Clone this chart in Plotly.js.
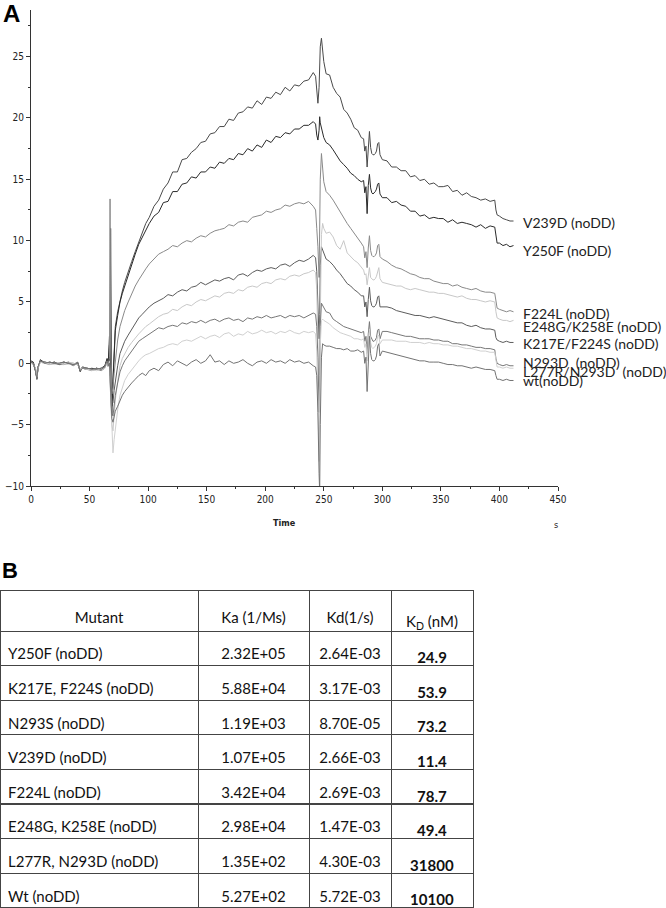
<!DOCTYPE html>
<html><head><meta charset="utf-8">
<script src="https://cdn.plot.ly/plotly-3.0.1.min.js"></script>
<style>html,body{margin:0;padding:0;background:#fff;overflow:hidden;}#wrap{width:666px;height:908px;overflow:hidden;}#chart{width:666px;height:930px;}</style>
</head><body><div id="wrap"><div id="chart"></div></div>
<script>
// time (s)
const time = [
0,2,4,5,6,8,12,16,20,24,28,32,36,40,42,44,48,52,56,60,63,65,66,
67,67.5,68,69,70,71,72,
74,76,78,80,83,86,89,92,95,98,101,105,109,113,117,121,125,129,133,137,141,145,149,153,157,161,165,169,173,177,181,185,189,193,197,201,205,209,213,217,221,225,229,233,237,241,
243,244,245,246,246.5,247,248,249,250,252,
255,258,261,264,267,270,273,276,279,282,
284,285,286,287,288,289,290,291,292,293,294,295,296,297,298,300,
304,308,312,316,320,324,328,332,336,340,344,348,352,356,360,364,368,372,376,380,384,388,392,396,
397,398,400,403,406,409,412];

const v239d = [
0.1,0.0,-0.7,-1.2,-0.3,0.2,0.1,0.0,0.1,-0.1,0.0,0.1,-0.1,0.0,-0.7,-0.3,-0.4,-0.5,-0.4,-0.5,-0.3,0.3,-0.2,
1.5,-1.0,11.0,-3.5,-1.0,1.5,3.0,
4.2,5.1,5.9,6.6,7.5,8.3,9.1,9.9,10.6,11.4,11.9,12.8,13.3,14.2,14.7,15.6,15.6,16.6,16.7,17.2,17.5,18.0,18.1,18.7,18.8,19.3,19.3,19.9,19.8,20.4,20.5,20.9,20.8,21.4,21.1,21.7,21.6,22.1,21.9,22.5,22.2,22.7,22.6,23.0,23.1,23.7,
23.4,22.0,21.2,22.5,24.5,25.8,26.5,25.4,24.6,23.6,
23.5,22.5,22.0,21.7,20.7,20.4,19.9,19.2,19.0,18.4,
18.3,17.3,17.7,16.0,18.0,18.9,17.6,17.1,17.0,17.0,17.1,17.3,17.9,18.0,17.0,16.6,
16.5,16.0,16.0,15.7,15.7,15.2,15.3,14.9,15.0,14.6,14.7,14.4,14.4,14.5,14.0,14.1,13.7,13.9,13.6,13.5,13.3,13.4,13.2,13.3,
12.5,12.1,12.0,11.8,11.7,11.6,11.6];

const y250f = [
0.2,0.1,-0.6,-1.3,-0.4,0.3,0.0,0.1,0.0,0.0,0.1,0.0,0.0,-0.1,-0.6,-0.4,-0.5,-0.4,-0.5,-0.4,-0.2,0.4,0.0,
2.2,0.5,-2.0,-4.1,-1.5,1.0,2.7,
3.9,5.0,5.7,6.3,7.2,8.0,8.9,9.7,10.3,10.9,11.4,12.0,12.3,13.1,13.2,14.0,14.0,14.6,14.7,15.2,15.1,15.6,15.6,16.0,15.9,16.4,16.3,16.7,16.6,17.1,17.0,17.5,17.3,17.8,17.6,18.2,18.0,18.5,18.4,18.8,18.7,19.1,19.1,19.4,19.4,19.7,
19.5,18.6,18.2,19.0,20.1,19.6,19.2,18.8,18.4,18.0,
17.8,17.4,16.9,16.5,16.2,15.9,15.5,15.3,15.0,14.8,
14.9,13.9,14.4,12.2,14.5,15.4,14.3,13.9,13.8,13.9,14.0,14.2,14.6,14.7,13.8,13.5,
13.5,13.1,13.2,12.9,12.8,12.4,12.4,12.0,12.1,11.8,11.9,11.8,11.8,11.5,11.7,11.4,11.5,11.4,11.3,11.1,11.3,11.0,11.2,11.1,
10.3,9.8,9.8,9.6,9.7,9.5,9.6];

const f224l = [
0.0,-0.1,-0.5,-1.1,-0.3,0.1,0.0,-0.1,0.0,-0.1,-0.1,0.0,-0.2,0.0,-0.5,-0.4,-0.5,-0.6,-0.5,-0.6,-0.4,0.1,-0.3,
0.5,13.4,2.0,-2.5,-2.0,-0.8,0.2,
1.9,3.0,3.7,4.3,5.0,5.7,6.3,6.8,7.3,7.7,8.1,8.5,8.9,9.1,9.3,9.6,9.5,9.8,10.0,9.9,10.2,10.4,10.3,10.6,10.8,10.9,11.0,11.3,11.2,11.5,11.6,11.5,11.9,12.0,12.1,12.4,12.3,12.5,12.6,12.9,12.8,13.0,13.1,13.0,13.2,12.8,
12.5,11.0,9.5,7.0,11.0,15.0,17.1,15.6,14.8,14.0,
13.7,13.3,12.8,12.3,11.8,11.4,11.0,10.6,10.3,9.8,
9.5,8.6,9.1,7.8,9.4,10.4,9.2,8.8,8.7,8.7,8.8,9.0,9.6,9.7,8.7,8.5,
8.3,8.0,7.8,7.7,7.5,7.3,7.2,7.0,6.9,6.9,6.7,6.6,6.5,6.5,6.3,6.4,6.2,6.1,6.0,6.1,5.9,5.8,5.8,5.7,
5.0,4.5,4.4,4.3,4.2,4.3,4.2];

const k217e = [
0.1,0.0,-0.6,-1.2,-0.4,0.2,0.0,0.0,0.1,-0.1,0.0,0.0,-0.1,0.1,-0.6,-0.3,-0.5,-0.5,-0.4,-0.5,-0.3,0.2,-0.1,
0.3,-0.5,-2.0,-3.0,-3.2,-2.2,-1.4,
-0.2,0.8,1.3,1.8,2.3,2.8,3.3,3.7,4.0,4.3,4.6,4.9,5.1,5.3,5.6,5.5,5.8,6.0,5.9,6.2,6.3,6.6,6.4,6.6,6.8,6.7,6.9,7.0,6.8,7.2,7.3,7.1,7.4,7.6,7.5,7.7,7.8,7.7,8.0,8.1,7.9,8.2,8.4,8.3,8.5,8.8,
8.6,7.5,5.0,2.0,4.0,8.0,9.5,9.2,8.9,8.5,
8.3,8.0,7.6,7.3,6.9,6.5,6.3,6.0,5.8,5.5,
5.5,4.6,5.0,3.8,5.2,6.2,5.1,4.7,4.6,4.6,4.7,4.9,5.4,5.5,4.6,4.6,
4.6,4.5,4.3,4.2,4.1,4.0,3.9,3.9,3.8,3.7,3.8,3.7,3.6,3.5,3.4,3.3,3.3,3.1,3.0,3.1,2.9,2.8,2.8,2.7,
2.1,1.9,1.8,1.7,1.8,1.7,1.7];

const e248g = [
0.0,0.0,-0.5,-1.1,-0.4,0.1,0.1,-0.1,0.0,0.0,-0.1,0.1,0.0,-0.1,-0.5,-0.4,-0.4,-0.6,-0.5,-0.5,-0.4,0.1,-0.2,
0.2,-1.0,-2.5,-5.0,-5.5,-4.0,-3.0,
-1.5,-0.2,0.4,0.8,1.3,1.7,2.1,2.4,2.7,3.0,3.2,3.5,3.8,4.0,4.1,4.4,4.3,4.6,4.8,4.7,5.0,5.2,5.1,5.3,5.5,5.4,5.7,5.8,5.7,6.0,5.9,6.2,6.3,6.2,6.5,6.6,6.5,6.8,6.9,6.8,7.1,7.2,7.1,7.3,7.4,7.6,
7.4,6.0,2.0,-3.0,0.0,6.0,10.5,11.4,11.0,10.6,
10.7,10.3,9.6,9.3,10.0,9.0,8.7,8.4,8.2,7.8,
7.6,7.2,7.3,6.4,7.2,7.8,7.0,6.9,6.8,6.8,6.9,7.1,7.6,7.8,6.9,6.6,
6.5,6.4,6.3,6.3,6.1,6.0,6.1,6.0,5.9,5.8,5.8,5.7,5.7,5.6,5.5,5.4,5.5,5.3,5.2,5.2,5.1,5.0,5.1,5.0,
4.2,3.7,3.6,3.5,3.5,3.4,3.5];

const n293d = [
0.1,0.0,-0.6,-1.2,-0.3,0.2,0.1,0.0,0.0,-0.1,0.1,0.0,-0.1,0.0,-0.6,-0.3,-0.4,-0.5,-0.5,-0.4,-0.3,0.2,-0.2,
0.0,-0.8,-2.8,-4.0,-4.3,-3.4,-2.6,
-1.6,-0.7,-0.2,0.2,0.6,1.0,1.4,1.8,2.0,2.2,2.4,2.6,2.9,2.8,3.0,3.1,3.0,3.3,3.2,3.4,3.3,3.5,3.3,3.5,3.6,3.4,3.6,3.7,3.5,3.6,3.4,3.7,3.6,3.8,3.7,3.9,3.7,3.8,3.9,3.7,3.9,3.8,3.9,3.7,3.9,4.1,
4.0,3.0,0.5,-4.0,-1.0,3.0,4.9,4.7,4.5,4.2,
4.1,3.6,3.4,3.2,3.0,2.9,2.8,2.7,2.6,2.5,
2.6,1.8,2.2,0.8,2.4,3.4,2.2,1.9,1.8,1.8,1.9,2.1,2.7,2.8,2.0,2.6,
2.6,2.5,2.4,2.3,2.2,2.2,2.1,2.0,2.0,2.0,1.9,1.9,1.8,1.8,1.6,1.6,1.5,1.5,1.4,1.3,1.3,1.2,1.2,1.1,
0.4,0.0,-0.1,-0.2,-0.1,-0.2,-0.2];

const l277r = [
0.0,-0.1,-0.5,-1.1,-0.4,0.1,0.0,0.0,-0.1,0.0,0.0,-0.1,0.0,-0.1,-0.5,-0.4,-0.5,-0.5,-0.6,-0.5,-0.4,0.1,-0.3,
-0.2,-1.5,-3.0,-6.0,-7.3,-6.2,-5.2,
-3.8,-2.6,-1.9,-1.4,-0.9,-0.5,-0.1,0.2,0.5,0.7,0.8,1.0,1.2,1.3,1.5,1.6,1.5,1.8,1.9,1.8,2.0,2.2,2.0,2.2,2.3,2.1,2.4,2.5,2.2,2.4,2.3,2.6,2.4,2.5,2.7,2.5,2.6,2.4,2.6,2.5,2.7,2.5,2.4,2.6,2.5,2.6,
2.4,1.0,-3.0,-8.0,-4.0,1.5,3.5,3.6,3.5,3.4,
3.2,2.9,2.7,2.5,2.4,2.3,2.2,2.0,2.0,1.9,
2.0,1.3,1.6,0.2,1.8,2.8,1.7,1.3,1.2,1.3,1.4,1.6,2.2,2.3,1.6,1.9,
1.9,1.9,1.8,1.8,1.8,1.7,1.7,1.7,1.6,1.7,1.6,1.6,1.5,1.5,1.4,1.4,1.3,1.2,1.2,1.1,1.0,1.0,0.9,0.9,
0.1,-0.3,-0.3,-0.4,-0.3,-0.4,-0.4];

const wt = [
0.1,0.0,-0.7,-1.3,-0.3,0.2,0.0,0.1,0.0,0.0,0.1,0.0,-0.1,0.0,-0.6,-0.4,-0.4,-0.5,-0.4,-0.5,-0.3,0.2,-0.2,
0.0,-1.2,-3.0,-4.5,-4.8,-4.3,-3.9,
-3.5,-3.0,-2.6,-2.3,-1.9,-1.6,-1.3,-1.0,-0.8,-1.0,-0.6,-0.4,-0.6,-0.1,0.1,-0.2,0.2,0.0,-0.2,0.1,0.3,0.0,0.2,0.7,0.1,0.2,-0.1,0.2,0.0,0.1,0.3,0.0,-0.2,0.1,0.2,0.0,0.3,0.1,0.2,0.0,0.3,0.1,0.2,0.0,0.1,-0.2,
-0.3,-1.0,-4.0,-9.0,-10.5,-5.0,0.5,1.6,1.5,1.4,
1.4,1.3,1.2,1.2,1.1,1.2,1.0,1.0,1.1,0.9,
1.0,0.0,0.5,-2.3,0.4,2.2,0.8,0.3,0.2,0.2,0.3,0.6,1.4,1.6,0.6,1.0,
0.9,0.8,0.7,0.6,0.5,0.4,0.3,0.2,0.2,0.1,0.1,0.1,0.0,-0.1,-0.1,-0.2,-0.2,-0.3,-0.4,-0.3,-0.4,-0.5,-0.5,-0.6,
-1.0,-1.3,-1.3,-1.4,-1.3,-1.4,-1.4];

// curve labels and the heights (response units) where they sit
const curveNames = ["V239D (noDD)","Y250F (noDD)","F224L (noDD)","K217E/F224S (noDD)","E248G/K258E (noDD)","N293D\u00a0\u00a0(noDD)","L277R/N293D\u00a0\u00a0(noDD)","wt(noDD)"];
const labelY = [11.5, 9.2, 4.1, 1.6, 3.0, 0.1, -0.65, -1.4];
const curveColors = ["#4a4a4a","#2a2a2a","#8a8a8a","#5c5c5c","#c8c8c8","#777777","#d0d0d0","#737373"];
const series = [v239d, y250f, f224l, k217e, e248g, n293d, l277r, wt];

// table
const tableHeader = ["Mutant","Ka (1/Ms)","Kd(1/s)","K<sub>D</sub> (nM)"];
const mutants = ["Y250F (noDD)","K217E, F224S (noDD)","N293S (noDD)","V239D (noDD)","F224L (noDD)","E248G, K258E (noDD)","L277R, N293D (noDD)","Wt (noDD)"];
const kaVals = ["2.32E+05","5.88E+04","1.19E+03","1.07E+05","3.42E+04","2.98E+04","1.35E+02","5.27E+02"];
const kdVals = ["2.64E-03","3.17E-03","8.70E-05","2.66E-03","2.69E-03","1.47E-03","4.30E-03","5.72E-03"];
const KDVals = ["24.9","53.9","73.2","11.4","78.7","49.4","31800","10100"];

const W = 666, H = 930;   // layout height (visible window is 908 px tall)
const py = p => (H - p) / H;  // pixel-from-top -> paper fraction
const narrow = "Liberation Sans Narrow, DejaVu Sans Condensed, Arial Narrow, sans-serif";
const tfont = "Lato, Carlito, Calibri, sans-serif";
const colW = [198, 111, 82, 82];

const traces = series.map((ys, i) => ({
  type: 'scatter', mode: 'lines', x: time, y: ys, name: curveNames[i],
  line: {color: curveColors[i], width: 1}, hoverinfo: 'skip'
}));

// table grid
const blank = a => a.map(() => '');
traces.push({
  type: 'table',
  domain: {x: [0, 473/W], y: [py(908), py(590)]},
  columnwidth: colW,
  header: {values: blank(tableHeader), height: 41, line: {color: '#444', width: 1}, fill: {color: '#ffffff'}, font: {size: 10}},
  cells: {values: [blank(mutants), blank(kaVals), blank(kdVals), blank(KDVals)], height: 34.6,
          line: {color: '#444', width: 1}, fill: {color: '#ffffff'}, font: {size: 10}}
});
// table text
traces.push({
  type: 'table',
  domain: {x: [0, 473/W], y: [0, py(604)]},
  columnwidth: colW,
  header: {
    values: tableHeader, align: ['center','center','center','center'], height: 35,
    line: {color: 'rgba(0,0,0,0)', width: 0}, fill: {color: 'rgba(0,0,0,0)'},
    font: {family: tfont, size: 15, color: '#111'}
  },
  cells: {
    values: [mutants, kaVals, kdVals, KDVals.map(v => '<b>' + v + '</b>')],
    align: ['left','center','center','center'], height: 34.6,
    line: {color: 'rgba(0,0,0,0)', width: 0}, fill: {color: 'rgba(0,0,0,0)'},
    font: {family: tfont, size: 15, color: '#111'}
  }
});

const annotations = curveNames.map((n, i) => ({
  xref: 'x', yref: 'y', x: 418.5, y: labelY[i], text: n, showarrow: false,
  xanchor: 'left', yanchor: 'middle', font: {family: tfont, size: 14, color: '#222'}
}));
annotations.push(
  {xref:'paper', yref:'paper', x: 1/W, y: py(14), text:'<b>A</b>', showarrow:false, xanchor:'left', yanchor:'middle', font:{family:'Liberation Sans, Arial, sans-serif', size:24, color:'#000'}},
  {xref:'paper', yref:'paper', x: 0, y: py(570), text:'<b>B</b>', showarrow:false, xanchor:'left', yanchor:'middle', font:{family:'Liberation Sans Narrow, Liberation Sans, Arial, sans-serif', size:22, color:'#000'}},
  {xref:'paper', yref:'paper', x: 284/W, y: py(523), text:'<b>Time</b>', showarrow:false, xanchor:'center', yanchor:'middle', font:{family:narrow, size:9, color:'#222'}},
  {xref:'paper', yref:'paper', x: 556/W, y: py(525), text:'s', showarrow:false, xanchor:'center', yanchor:'middle', font:{family:narrow, size:9, color:'#222'}}
);

const layout = {
  width: W, height: H,
  margin: {l: 0, r: 0, t: 0, b: 0, pad: 0},
  paper_bgcolor: '#fff', plot_bgcolor: '#fff',
  showlegend: false,
  xaxis: {
    domain: [31/W, 558/W], range: [0, 450], tickvals: [0,50,100,150,200,250,300,350,400,450],
    ticks: 'outside', ticklen: 4, tickwidth: 1, tickcolor: '#333',
    showline: true, linecolor: '#333', linewidth: 1,
    showgrid: false, zeroline: false,
    minor: {dtick: 25, ticks: 'outside', ticklen: 2, tickcolor: '#333', showgrid: false},
    tickfont: {family: narrow, size: 10, color: '#222'}, anchor: 'y'
  },
  yaxis: {
    domain: [py(486), py(10)], range: [-10, 28.8], tickvals: [-10,-5,0,5,10,15,20,25],
    ticks: 'outside', ticklen: 4, tickwidth: 1, tickcolor: '#333',
    showline: true, linecolor: '#333', linewidth: 1,
    showgrid: false, zeroline: false,
    minor: {dtick: 2.5, ticks: 'outside', ticklen: 2, tickcolor: '#333', showgrid: false},
    tickfont: {family: narrow, size: 10, color: '#222'}, anchor: 'x'
  },
  annotations: annotations
};

Plotly.newPlot('chart', traces, layout, {staticPlot: true, displayModeBar: false});
</script>
</body></html>
